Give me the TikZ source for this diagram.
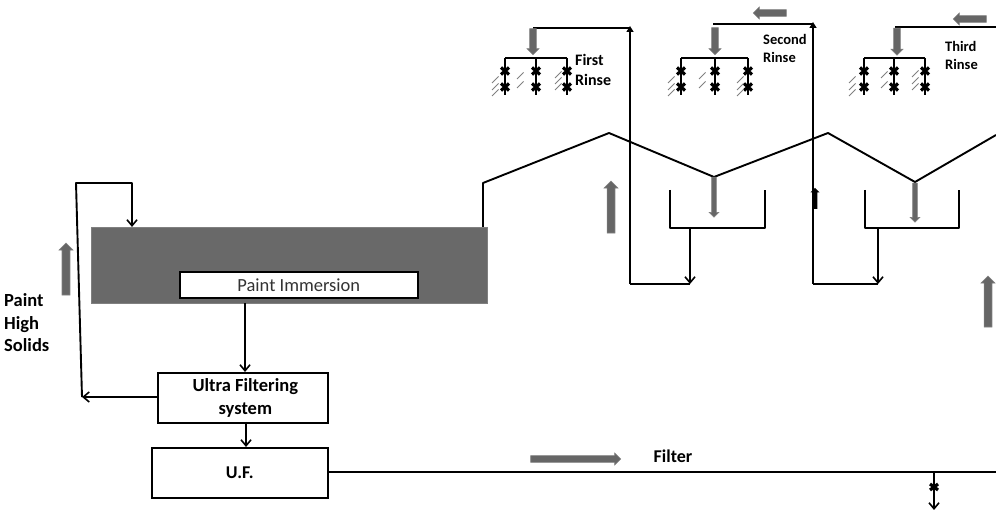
\documentclass[tikz,border=0pt]{standalone}
\usepackage{fontspec}
\setmainfont{Carlito}
\usetikzlibrary{arrows.meta,shapes.arrows}
\definecolor{tankgray}{HTML}{696969}
\definecolor{arrowgray}{HTML}{666666}
\definecolor{edgegray}{HTML}{808080}
\tikzset{
  flow/.style={black,line width=1.9pt,line join=round},
  barb/.style={flow,-{Straight Barb[length=6pt,width=10pt,line width=1.6pt]}},
  solidtip/.style={flow,-{Triangle[length=6pt,width=7pt]}},
  boxnode/.style={draw=black,line width=1.6pt,fill=white,inner sep=0pt,anchor=north west},
  label/.style={font=\bfseries,inner sep=0pt,align=center},
  bigarrow/.style={single arrow,fill=arrowgray,draw=edgegray,line width=.6pt,inner sep=3.6pt,
     single arrow head extend=3pt,single arrow head indent=0pt,minimum width=14pt},
  midarrow/.style={bigarrow,inner sep=3pt,single arrow head extend=2.5pt,minimum width=12pt},
  smallarrow/.style={bigarrow,inner sep=2pt,single arrow head extend=2.5pt,minimum width=9pt},
  hatch/.style={edgegray,line width=.9pt},
  valve/.style={black,line width=3.2pt}
}
\newcommand{\sprayset}[3]{%
  \draw[flow] (#1,58) -- (#3,58);
  \foreach \px in {#1,#2,#3}{
    \coordinate (p) at (\px,58);
    \coordinate (q) at (\px,95);
    \draw[flow] (p) -- (q);
    \foreach \vy in {71,87}{
      \draw[valve] (\px-4,\vy-3.5) -- (\px+4,\vy+3.5);
      \draw[valve] (\px-4,\vy+3.5) -- (\px+4,\vy-3.5);
    }
  }
}
% hatch: left x, list of lower y values
\newcommand{\hatches}[2]{%
  \foreach \hy in {#2}{\draw[hatch] (#1,\hy) -- (#1+6.5,\hy-6.5);}
}
\begin{document}
\begin{tikzpicture}[x=1pt,y=-1pt]
\useasboundingbox (0,0) rectangle (996,510);
% boxes
\node[draw=edgegray,line width=1pt,fill=tankgray,minimum width=396pt,minimum height=76pt,anchor=north west,inner sep=0pt] (tank) at (91,227) {};
\node[boxnode,minimum width=238pt,minimum height=26pt,text=black!80,font=\fontsize{18.5}{20}\selectfont] (immersion) at (179,271) {Paint Immersion};
\node[boxnode,minimum width=170pt,minimum height=50pt,font=\fontsize{18.5}{23}\selectfont\bfseries,align=center] (ufsys) at (157,372) {\hspace*{5pt}Ultra Filtering\\\hspace*{5pt}system};
\node[boxnode,minimum width=176pt,minimum height=50pt,font=\fontsize{18}{20}\selectfont\bfseries] (uf) at (151,447) {U.F.};
% coordinates
\coordinate (tankin) at (132,227);
\coordinate (loopa) at (82,397);
\coordinate (loopb) at (76,183);
\coordinate (loopc) at (132,183);
\coordinate (tankout) at (245,303);
\coordinate (ufsysin) at (245,372);
\coordinate (ufsysleft) at (157,397);
\coordinate (ufsysout) at (246,422);
\coordinate (ufin) at (246,447);
\coordinate (ufright) at (327,472);
\coordinate (lineend) at (996,472);
\coordinate (drain) at (934,472);
\coordinate (drainend) at (934,510);
\coordinate (r0) at (483,227);
\coordinate (r1) at (483,183);
\coordinate (r2) at (609,133);
\coordinate (r3) at (714,177);
\coordinate (r4) at (828,133);
\coordinate (r5) at (915,182);
\coordinate (r6) at (996,135);
% main connectors
\draw[barb] (tankout) -- (ufsysin);
\draw[barb] (ufsysout) -- (ufin);
\draw[barb] (ufsysleft) -- (loopa);
\draw[barb] (loopa) -- (loopb) -- (loopc) -- (tankin);
\draw[flow] (ufright) -- (lineend);
\draw[barb] (drain) -- (drainend);
\draw[valve] (930,484) -- (938,490);
\draw[valve] (930,490) -- (938,484);
\draw[flow] (r0) -- (r1) -- (r2) -- (r3) -- (r4) -- (r5) -- (r6);
% tanks
\coordinate (t1a) at (670,190); \coordinate (t1b) at (670,228);
\coordinate (t1c) at (765,228); \coordinate (t1d) at (765,190);
\coordinate (t1o) at (690,228); \coordinate (t1e) at (690,284);
\coordinate (t1f) at (630,284); \coordinate (t1g) at (630,26);
\coordinate (t1h) at (630,28); \coordinate (t1i) at (533,28);
\draw[flow] (t1a) -- (t1b) -- (t1c) -- (t1d);
\draw[barb] (t1o) -- (t1e);
\draw[flow] (t1e) -- (t1f);
\draw[solidtip] (t1f) -- (t1g);
\draw[flow] (t1h) -- (t1i);
\coordinate (t2a) at (865,190); \coordinate (t2b) at (865,228);
\coordinate (t2c) at (959,228); \coordinate (t2d) at (959,190);
\coordinate (t2o) at (878,228); \coordinate (t2e) at (878,284);
\coordinate (t2f) at (813,284); \coordinate (t2g) at (813,22);
\coordinate (t2h) at (813,24); \coordinate (t2i) at (713,24);
\draw[flow] (t2a) -- (t2b) -- (t2c) -- (t2d);
\draw[barb] (t2o) -- (t2e);
\draw[flow] (t2e) -- (t2f);
\draw[solidtip] (t2f) -- (t2g);
\draw[flow] (t2h) -- (t2i);
\coordinate (t3h) at (996,27); \coordinate (t3i) at (895,27);
\draw[flow] (t3h) -- (t3i);
% sprays
\sprayset{505}{536}{567}
\sprayset{681}{715}{748}
\sprayset{864}{894}{925}
\hatches{492}{83,90,96}
\hatches{517}{79,88}
\hatches{555}{78,84,90}
\hatches{668}{83,90,96}
\hatches{699}{79,88}
\hatches{737}{83,90,96}
\hatches{849}{83,90,96}
\hatches{881}{78,88}
\hatches{912}{77,84,90}
% gray arrows
\node[bigarrow,minimum height=52pt,rotate=90] (ga) at (66,271) {};
\node[bigarrow,minimum height=52pt,rotate=90] (gb) at (611,209) {};
\node[bigarrow,minimum height=51pt,rotate=90] (gc) at (988,303.5) {};
\node[midarrow,minimum height=90pt] (gd) at (574,459) {};
\node[midarrow,minimum height=33pt,rotate=180] (ge) at (771.5,13) {};
\node[midarrow,minimum height=33pt,rotate=180] (gf) at (971.5,19) {};
\node[midarrow,minimum height=26pt,rotate=-90] (gg) at (533,40) {};
\node[midarrow,minimum height=27pt,rotate=-90] (gh) at (715,39.5) {};
\node[midarrow,minimum height=27pt,rotate=-90] (gi) at (897,40) {};
\node[smallarrow,minimum height=40pt,rotate=-90] (gj) at (714,196) {};
\node[smallarrow,minimum height=39pt,rotate=-90] (gk) at (915,201.5) {};
\node[single arrow,fill=black,inner sep=2.2pt,single arrow head extend=2pt,single arrow head indent=0pt,minimum width=9pt,minimum height=21pt,rotate=90] (gl) at (815,199.5) {};
% labels
\node[label,anchor=west,align=left,font=\fontsize{18.5}{22.5}\selectfont\bfseries] (paint) at (4,323) {Paint\\High\\Solids};
\node[label,font=\fontsize{18}{20}\selectfont\bfseries] (filter) at (673,456) {Filter};
\node[label,anchor=west,align=left,font=\fontsize{16}{20}\selectfont\bfseries] (first) at (575,70) {First\\Rinse};
\node[label,anchor=west,align=left,font=\fontsize{14.5}{18}\selectfont\bfseries] (second) at (763,48) {Second\\Rinse};
\node[label,anchor=west,align=left,font=\fontsize{14.5}{18}\selectfont\bfseries] (third) at (945,55) {Third\\Rinse};
\end{tikzpicture}
\end{document}
